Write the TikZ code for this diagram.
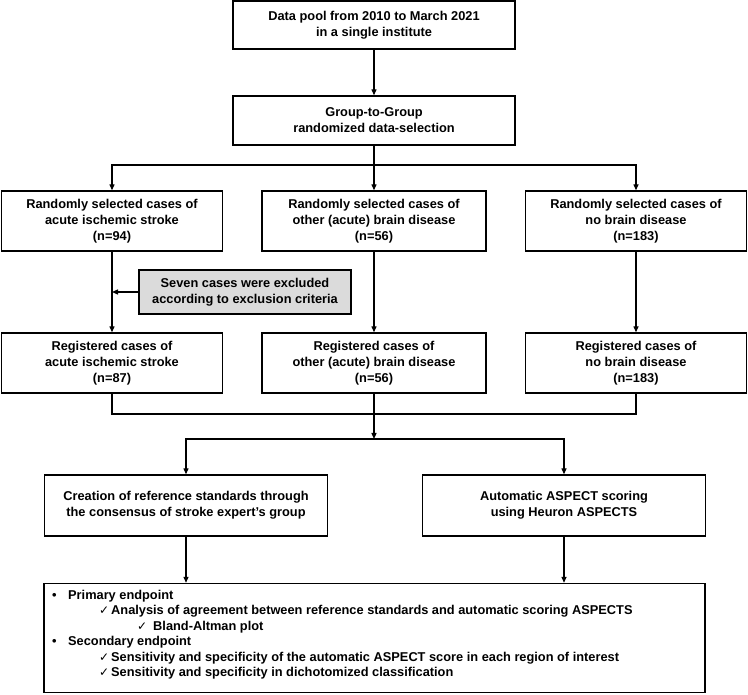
\documentclass[tikz,border=0pt]{standalone}
\usepackage{fontspec}
\setmainfont{Liberation Sans}
\newfontfamily\djv{DejaVu Sans}
\usetikzlibrary{arrows.meta}
\newcommand{\ck}{{\djv\fontsize{12}{12}\selectfont ✓}}
\begin{document}
\begin{tikzpicture}[x=1pt,y=-1pt,
  box/.style={draw=black,line width=1.4pt,fill=white,inner sep=0pt,align=center,
    font=\bfseries\fontsize{12.8}{16}\selectfont},
  greybox/.style={box,fill=black!14},
  arr/.style={line width=1.3pt,-{Triangle[length=6pt,width=5pt]}},
  ln/.style={line width=1.3pt}]
\useasboundingbox (0,0) rectangle (748,695);
\fill[white] (0,0) rectangle (748,695);
% nodes
\node[box,minimum width=282pt,minimum height=48pt] (top) at (374,25)
  {Data pool from 2010 to March 2021\\in a single institute};
\node[box,minimum width=282pt,minimum height=49pt] (sel) at (374,120.5)
  {Group-to-Group\\randomized data-selection};
\node[box,minimum width=221pt,minimum height=60pt] (a3) at (112,221)
  {Randomly selected cases of\\acute ischemic stroke\\(n=94)};
\node[box,minimum width=224pt,minimum height=60pt] (b3) at (374,221)
  {Randomly selected cases of\\other (acute) brain disease\\(n=56)};
\node[box,minimum width=221pt,minimum height=60pt] (c3) at (636,221)
  {Randomly selected cases of\\no brain disease\\(n=183)};
\node[greybox,minimum width=212pt,minimum height=44pt] (ex) at (245,292)
  {Seven cases were excluded\\according to exclusion criteria};
\node[box,minimum width=221pt,minimum height=60pt] (a4) at (112,363)
  {Registered cases of\\acute ischemic stroke\\(n=87)};
\node[box,minimum width=224pt,minimum height=60pt] (b4) at (374,363)
  {Registered cases of\\other (acute) brain disease\\(n=56)};
\node[box,minimum width=221pt,minimum height=60pt] (c4) at (636,363)
  {Registered cases of\\no brain disease\\(n=183)};
\node[box,minimum width=283pt,minimum height=61pt] (l5) at (186,505.5)
  {Creation of reference standards through\\the consensus of stroke expert’s group};
\node[box,minimum width=283pt,minimum height=61pt] (r5) at (564,505.5)
  {Automatic ASPECT scoring\\using Heuron ASPECTS};
\node[box,minimum width=661pt,minimum height=109pt] (bot) at (374.5,638) {};
\node[anchor=north west,inner sep=0pt,align=left,
  font=\bfseries\fontsize{12.8}{15.4}\selectfont] (bt) at (52,590)
  {\makebox[16pt][l]{•}Primary endpoint\\
   \hspace*{47pt}\makebox[12pt][l]{\ck}Analysis of agreement between reference standards and automatic scoring ASPECTS\\
   \hspace*{85pt}\makebox[16pt][l]{\ck}Bland-Altman plot\\
   \makebox[16pt][l]{•}Secondary endpoint\\
   \hspace*{47pt}\makebox[12pt][l]{\ck}Sensitivity and specificity of the automatic ASPECT score in each region of interest\\
   \hspace*{47pt}\makebox[12pt][l]{\ck}Sensitivity and specificity in dichotomized classification};
% coordinates
\coordinate (br) at (374,165);
\coordinate (mg) at (374,414);
\coordinate (sp) at (374,439);
% connectors
\draw[arr] (top) -- (sel);
\draw[arr] (sel.south) -- (b3.north);
\draw[arr] (br) -| (a3.north);
\draw[arr] (br) -| (c3.north);
\draw[arr] (a3.south) -- (a4.north);
\draw[arr] (ex.west) -- (ex.west -| a3.south);
\draw[arr] (b3.south) -- (b4.north);
\draw[arr] (c3.south) -- (c4.north);
\draw[ln] (a4.south) |- (mg);
\draw[ln] (c4.south) |- (mg);
\draw[arr] (b4.south) -- (sp);
\draw[arr] (sp) -| (l5.north);
\draw[arr] (sp) -| (r5.north);
\draw[arr] (l5.south) -- (l5.south |- bot.north);
\draw[arr] (r5.south) -- (r5.south |- bot.north);
\end{tikzpicture}
\end{document}
